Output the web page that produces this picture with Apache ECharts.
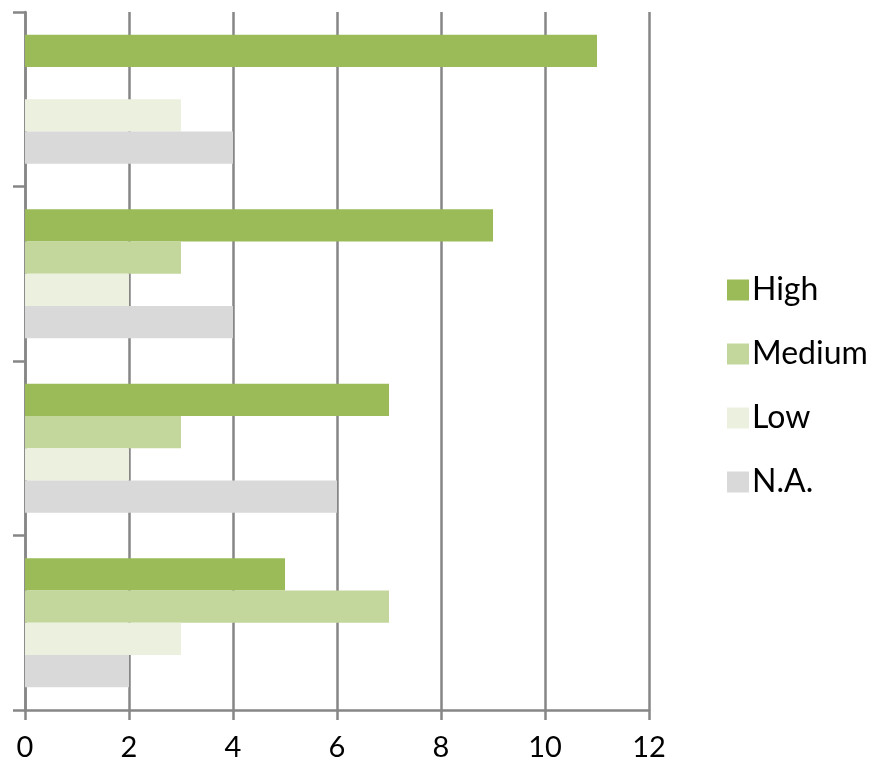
<!DOCTYPE html>
<html><head><meta charset="utf-8">
<script src="https://cdn.jsdelivr.net/npm/echarts@6/dist/echarts.min.js"></script>
<style>html,body{margin:0;padding:0;background:#fff}#c{width:876px;height:767px}</style>
</head><body><div id="c"></div>
<script>
const categories = ['Q4', 'Q3', 'Q2', 'Q1']; // bottom to top
const high = [5, 7, 9, 11];
const medium = [7, 3, 3, 0];
const low = [3, 2, 2, 3];
const na = [2, 6, 4, 4];
const seriesNames = ['High', 'Medium', 'Low', 'N.A.'];
const colors = ['#9BBB59', '#C3D69B', '#EBF1DE', '#D9D9D9'];
const xTicks = [0, 2, 4, 6, 8, 10, 12];

const chart = echarts.init(document.getElementById('c'));
const dataSets = [high, medium, low, na];
chart.setOption({
  animation: false,
  legend: {
    orient: 'vertical', left: 722, top: 268,
    itemWidth: 22, itemHeight: 21, itemGap: 30,
    icon: 'rect',
    textStyle: { fontSize: 32, lineHeight: 34, color: '#000', fontFamily: 'Lato', padding: [0,0,0,-2] },
    data: seriesNames
  },
  grid: { left: 25, right: 227, top: 12, bottom: 57 },
  xAxis: {
    type: 'value', min: xTicks[0], max: xTicks[xTicks.length-1], interval: 2,
    axisLine: { show: true, lineStyle: { color: '#868686', width: 2.5 } },
    axisTick: { show: true, length: 10, lineStyle: { color: '#868686', width: 2.5 } },
    splitLine: { show: true, lineStyle: { color: '#868686', width: 2.5 } },
    axisLabel: { fontSize: 29, color: '#000', fontFamily: 'Lato', margin: 23 }
  },
  yAxis: {
    type: 'category', data: categories,
    axisLine: { show: true, lineStyle: { color: '#868686', width: 2.5 } },
    axisTick: { show: true, length: 12, lineStyle: { color: '#868686', width: 2.5 } },
    axisLabel: { show: false }
  },
  series: seriesNames.map((n, i) => ({
    name: n, type: 'bar', data: dataSets[i],
    itemStyle: { color: colors[i] },
    barGap: '0%', barCategoryGap: '26%'
  }))
});
</script></body></html>
